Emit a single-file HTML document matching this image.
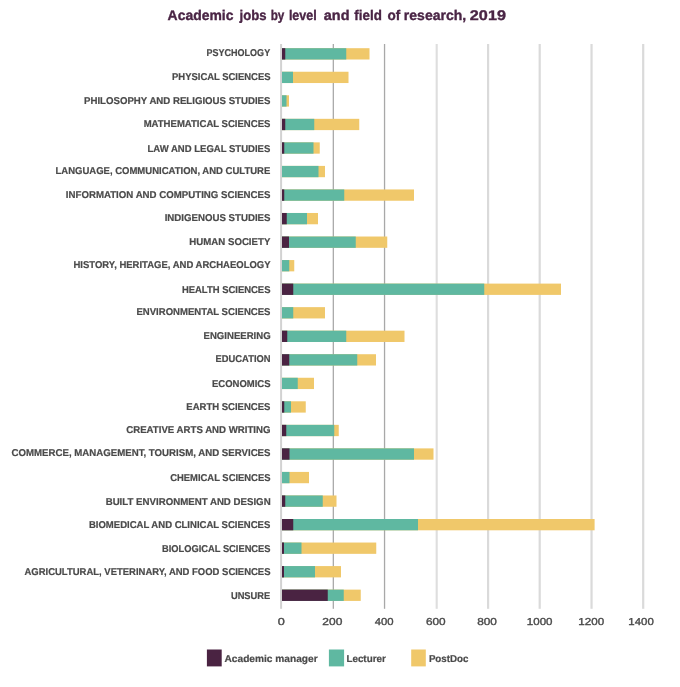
<!DOCTYPE html>
<html lang="en"><head><meta charset="utf-8"><title>Academic jobs by level and field of research, 2019</title>
<style>html,body{margin:0;padding:0;background:#fff}svg{display:block;will-change:transform}text{font-family:"Liberation Sans",sans-serif}</style></head><body>
<svg width="680" height="687" viewBox="0 0 680 687">
<rect width="680" height="687" fill="#fff"/>
<rect x="280.10" y="44.0" width="2.0" height="564.8" fill="#d2d2d2"/>
<rect x="332.70" y="44.0" width="1.2" height="564.8" fill="#a2a2a2"/>
<rect x="383.90" y="44.0" width="1.3" height="564.8" fill="#a8a8a8"/>
<rect x="435.65" y="44.0" width="2.1" height="564.8" fill="#dedede"/>
<rect x="487.00" y="44.0" width="2.2" height="564.8" fill="#dadada"/>
<rect x="538.60" y="44.0" width="2.2" height="564.8" fill="#dadada"/>
<rect x="590.45" y="44.0" width="2.2" height="564.8" fill="#dadada"/>
<rect x="642.10" y="44.0" width="2.2" height="564.8" fill="#dadada"/>
<rect x="282.00" y="48.20" width="87.50" height="11.3" fill="#f0c86a"/>
<rect x="282.00" y="48.20" width="64.25" height="11.3" fill="#5fb8a1"/>
<rect x="282.00" y="48.20" width="3.25" height="11.3" fill="#4a2342"/>
<rect x="282.00" y="71.74" width="66.50" height="11.3" fill="#f0c86a"/>
<rect x="282.00" y="71.74" width="11.00" height="11.3" fill="#5fb8a1"/>
<rect x="282.00" y="95.28" width="7.00" height="11.3" fill="#f0c86a"/>
<rect x="282.00" y="95.28" width="4.50" height="11.3" fill="#5fb8a1"/>
<rect x="282.00" y="118.82" width="77.25" height="11.3" fill="#f0c86a"/>
<rect x="282.00" y="118.82" width="32.25" height="11.3" fill="#5fb8a1"/>
<rect x="282.00" y="118.82" width="3.25" height="11.3" fill="#4a2342"/>
<rect x="282.00" y="142.36" width="37.75" height="11.3" fill="#f0c86a"/>
<rect x="282.00" y="142.36" width="31.50" height="11.3" fill="#5fb8a1"/>
<rect x="282.00" y="142.36" width="2.25" height="11.3" fill="#4a2342"/>
<rect x="282.00" y="165.90" width="43.00" height="11.3" fill="#f0c86a"/>
<rect x="282.00" y="165.90" width="36.50" height="11.3" fill="#5fb8a1"/>
<rect x="282.00" y="189.44" width="132.00" height="11.3" fill="#f0c86a"/>
<rect x="282.00" y="189.44" width="62.25" height="11.3" fill="#5fb8a1"/>
<rect x="282.00" y="189.44" width="2.25" height="11.3" fill="#4a2342"/>
<rect x="282.00" y="212.98" width="36.00" height="11.3" fill="#f0c86a"/>
<rect x="282.00" y="212.98" width="25.00" height="11.3" fill="#5fb8a1"/>
<rect x="282.00" y="212.98" width="4.75" height="11.3" fill="#4a2342"/>
<rect x="282.00" y="236.52" width="105.25" height="11.3" fill="#f0c86a"/>
<rect x="282.00" y="236.52" width="73.75" height="11.3" fill="#5fb8a1"/>
<rect x="282.00" y="236.52" width="7.00" height="11.3" fill="#4a2342"/>
<rect x="282.00" y="260.06" width="12.25" height="11.3" fill="#f0c86a"/>
<rect x="282.00" y="260.06" width="7.25" height="11.3" fill="#5fb8a1"/>
<rect x="282.00" y="283.60" width="279.00" height="11.3" fill="#f0c86a"/>
<rect x="282.00" y="283.60" width="202.25" height="11.3" fill="#5fb8a1"/>
<rect x="282.00" y="283.60" width="11.25" height="11.3" fill="#4a2342"/>
<rect x="282.00" y="307.14" width="43.00" height="11.3" fill="#f0c86a"/>
<rect x="282.00" y="307.14" width="11.25" height="11.3" fill="#5fb8a1"/>
<rect x="282.00" y="330.68" width="122.50" height="11.3" fill="#f0c86a"/>
<rect x="282.00" y="330.68" width="64.25" height="11.3" fill="#5fb8a1"/>
<rect x="282.00" y="330.68" width="5.25" height="11.3" fill="#4a2342"/>
<rect x="282.00" y="354.22" width="94.00" height="11.3" fill="#f0c86a"/>
<rect x="282.00" y="354.22" width="75.25" height="11.3" fill="#5fb8a1"/>
<rect x="282.00" y="354.22" width="7.25" height="11.3" fill="#4a2342"/>
<rect x="282.00" y="377.76" width="32.00" height="11.3" fill="#f0c86a"/>
<rect x="282.00" y="377.76" width="15.75" height="11.3" fill="#5fb8a1"/>
<rect x="282.00" y="401.30" width="23.75" height="11.3" fill="#f0c86a"/>
<rect x="282.00" y="401.30" width="9.00" height="11.3" fill="#5fb8a1"/>
<rect x="282.00" y="401.30" width="2.25" height="11.3" fill="#4a2342"/>
<rect x="282.00" y="424.84" width="56.75" height="11.3" fill="#f0c86a"/>
<rect x="282.00" y="424.84" width="52.25" height="11.3" fill="#5fb8a1"/>
<rect x="282.00" y="424.84" width="4.25" height="11.3" fill="#4a2342"/>
<rect x="282.00" y="448.38" width="151.50" height="11.3" fill="#f0c86a"/>
<rect x="282.00" y="448.38" width="132.00" height="11.3" fill="#5fb8a1"/>
<rect x="282.00" y="448.38" width="7.50" height="11.3" fill="#4a2342"/>
<rect x="282.00" y="471.92" width="27.00" height="11.3" fill="#f0c86a"/>
<rect x="282.00" y="471.92" width="7.50" height="11.3" fill="#5fb8a1"/>
<rect x="282.00" y="495.46" width="54.50" height="11.3" fill="#f0c86a"/>
<rect x="282.00" y="495.46" width="40.75" height="11.3" fill="#5fb8a1"/>
<rect x="282.00" y="495.46" width="3.25" height="11.3" fill="#4a2342"/>
<rect x="282.00" y="519.00" width="312.60" height="11.3" fill="#f0c86a"/>
<rect x="282.00" y="519.00" width="136.00" height="11.3" fill="#5fb8a1"/>
<rect x="282.00" y="519.00" width="11.25" height="11.3" fill="#4a2342"/>
<rect x="282.00" y="542.54" width="94.25" height="11.3" fill="#f0c86a"/>
<rect x="282.00" y="542.54" width="19.50" height="11.3" fill="#5fb8a1"/>
<rect x="282.00" y="542.54" width="2.00" height="11.3" fill="#4a2342"/>
<rect x="282.00" y="566.08" width="59.00" height="11.3" fill="#f0c86a"/>
<rect x="282.00" y="566.08" width="33.00" height="11.3" fill="#5fb8a1"/>
<rect x="282.00" y="566.08" width="2.00" height="11.3" fill="#4a2342"/>
<rect x="282.00" y="589.62" width="78.75" height="11.3" fill="#f0c86a"/>
<rect x="282.00" y="589.62" width="61.75" height="11.3" fill="#5fb8a1"/>
<rect x="282.00" y="589.62" width="45.75" height="11.3" fill="#4a2342"/>
<rect x="206.9" y="649.5" width="14.8" height="16.9" fill="#4a2342"/>
<rect x="328.9" y="649.5" width="15.2" height="16.9" fill="#5fb8a1"/>
<rect x="411.2" y="649.5" width="14.6" height="16.9" fill="#f0c86a"/>
<text x="167.61" y="20.10" font-size="14.0" font-weight="bold" text-rendering="geometricPrecision" fill="#4a2545" stroke="#4a2545" stroke-width="0.35" textLength="65.83" lengthAdjust="spacingAndGlyphs">Academic</text>
<text x="239.52" y="20.10" font-size="14.0" font-weight="bold" text-rendering="geometricPrecision" fill="#4a2545" stroke="#4a2545" stroke-width="0.35" textLength="26.98" lengthAdjust="spacingAndGlyphs">jobs</text>
<text x="270.69" y="20.10" font-size="14.0" font-weight="bold" text-rendering="geometricPrecision" fill="#4a2545" stroke="#4a2545" stroke-width="0.35" textLength="13.68" lengthAdjust="spacingAndGlyphs">by</text>
<text x="288.88" y="20.10" font-size="14.0" font-weight="bold" text-rendering="geometricPrecision" fill="#4a2545" stroke="#4a2545" stroke-width="0.35" textLength="27.82" lengthAdjust="spacingAndGlyphs">level</text>
<text x="323.81" y="20.10" font-size="14.0" font-weight="bold" text-rendering="geometricPrecision" fill="#4a2545" stroke="#4a2545" stroke-width="0.35" textLength="25.68" lengthAdjust="spacingAndGlyphs">and</text>
<text x="354.37" y="20.10" font-size="14.0" font-weight="bold" text-rendering="geometricPrecision" fill="#4a2545" stroke="#4a2545" stroke-width="0.35" textLength="27.46" lengthAdjust="spacingAndGlyphs">field</text>
<text x="387.52" y="20.10" font-size="14.0" font-weight="bold" text-rendering="geometricPrecision" fill="#4a2545" stroke="#4a2545" stroke-width="0.35" textLength="12.77" lengthAdjust="spacingAndGlyphs">of</text>
<text x="403.87" y="20.10" font-size="14.0" font-weight="bold" text-rendering="geometricPrecision" fill="#4a2545" stroke="#4a2545" stroke-width="0.35" textLength="62.35" lengthAdjust="spacingAndGlyphs">research,</text>
<text x="469.85" y="20.10" font-size="14.0" font-weight="bold" text-rendering="geometricPrecision" fill="#4a2545" stroke="#4a2545" stroke-width="0.35" textLength="36.10" lengthAdjust="spacingAndGlyphs">2019</text>
<text x="206.50" y="55.60" font-size="9.9" font-weight="bold" text-rendering="geometricPrecision" fill="#4a4a4a" stroke="#4a4a4a" stroke-width="0.2" textLength="63.65" lengthAdjust="spacingAndGlyphs">PSYCHOLOGY</text>
<text x="172.08" y="79.90" font-size="9.9" font-weight="bold" text-rendering="geometricPrecision" fill="#4a4a4a" stroke="#4a4a4a" stroke-width="0.2" textLength="98.42" lengthAdjust="spacingAndGlyphs">PHYSICAL SCIENCES</text>
<text x="84.04" y="104.45" font-size="9.9" font-weight="bold" text-rendering="geometricPrecision" fill="#4a4a4a" stroke="#4a4a4a" stroke-width="0.2" textLength="186.46" lengthAdjust="spacingAndGlyphs">PHILOSOPHY AND RELIGIOUS STUDIES</text>
<text x="143.67" y="127.40" font-size="9.9" font-weight="bold" text-rendering="geometricPrecision" fill="#4a4a4a" stroke="#4a4a4a" stroke-width="0.2" textLength="126.72" lengthAdjust="spacingAndGlyphs">MATHEMATICAL SCIENCES</text>
<text x="147.48" y="151.50" font-size="9.9" font-weight="bold" text-rendering="geometricPrecision" fill="#4a4a4a" stroke="#4a4a4a" stroke-width="0.2" textLength="122.85" lengthAdjust="spacingAndGlyphs">LAW AND LEGAL STUDIES</text>
<text x="55.48" y="174.40" font-size="9.9" font-weight="bold" text-rendering="geometricPrecision" fill="#4a4a4a" stroke="#4a4a4a" stroke-width="0.2" textLength="214.86" lengthAdjust="spacingAndGlyphs">LANGUAGE, COMMUNICATION, AND CULTURE</text>
<text x="65.82" y="197.90" font-size="9.9" font-weight="bold" text-rendering="geometricPrecision" fill="#4a4a4a" stroke="#4a4a4a" stroke-width="0.2" textLength="204.68" lengthAdjust="spacingAndGlyphs">INFORMATION AND COMPUTING SCIENCES</text>
<text x="164.65" y="221.20" font-size="9.9" font-weight="bold" text-rendering="geometricPrecision" fill="#4a4a4a" stroke="#4a4a4a" stroke-width="0.2" textLength="105.85" lengthAdjust="spacingAndGlyphs">INDIGENOUS STUDIES</text>
<text x="189.33" y="245.30" font-size="9.9" font-weight="bold" text-rendering="geometricPrecision" fill="#4a4a4a" stroke="#4a4a4a" stroke-width="0.2" textLength="81.00" lengthAdjust="spacingAndGlyphs">HUMAN SOCIETY</text>
<text x="73.48" y="268.00" font-size="9.9" font-weight="bold" text-rendering="geometricPrecision" fill="#4a4a4a" stroke="#4a4a4a" stroke-width="0.2" textLength="197.10" lengthAdjust="spacingAndGlyphs">HISTORY, HERITAGE, AND ARCHAEOLOGY</text>
<text x="181.92" y="292.60" font-size="9.9" font-weight="bold" text-rendering="geometricPrecision" fill="#4a4a4a" stroke="#4a4a4a" stroke-width="0.2" textLength="88.58" lengthAdjust="spacingAndGlyphs">HEALTH SCIENCES</text>
<text x="136.48" y="315.30" font-size="9.9" font-weight="bold" text-rendering="geometricPrecision" fill="#4a4a4a" stroke="#4a4a4a" stroke-width="0.2" textLength="134.02" lengthAdjust="spacingAndGlyphs">ENVIRONMENTAL SCIENCES</text>
<text x="203.55" y="339.30" font-size="9.9" font-weight="bold" text-rendering="geometricPrecision" fill="#4a4a4a" stroke="#4a4a4a" stroke-width="0.2" textLength="67.06" lengthAdjust="spacingAndGlyphs">ENGINEERING</text>
<text x="215.59" y="362.40" font-size="9.9" font-weight="bold" text-rendering="geometricPrecision" fill="#4a4a4a" stroke="#4a4a4a" stroke-width="0.2" textLength="54.94" lengthAdjust="spacingAndGlyphs">EDUCATION</text>
<text x="211.97" y="386.60" font-size="9.9" font-weight="bold" text-rendering="geometricPrecision" fill="#4a4a4a" stroke="#4a4a4a" stroke-width="0.2" textLength="58.53" lengthAdjust="spacingAndGlyphs">ECONOMICS</text>
<text x="186.32" y="409.60" font-size="9.9" font-weight="bold" text-rendering="geometricPrecision" fill="#4a4a4a" stroke="#4a4a4a" stroke-width="0.2" textLength="84.08" lengthAdjust="spacingAndGlyphs">EARTH SCIENCES</text>
<text x="126.25" y="433.30" font-size="9.9" font-weight="bold" text-rendering="geometricPrecision" fill="#4a4a4a" stroke="#4a4a4a" stroke-width="0.2" textLength="144.25" lengthAdjust="spacingAndGlyphs">CREATIVE ARTS AND WRITING</text>
<text x="11.50" y="456.40" font-size="9.9" font-weight="bold" text-rendering="geometricPrecision" fill="#4a4a4a" stroke="#4a4a4a" stroke-width="0.2" textLength="259.00" lengthAdjust="spacingAndGlyphs">COMMERCE, MANAGEMENT, TOURISM, AND SERVICES</text>
<text x="170.26" y="480.60" font-size="9.9" font-weight="bold" text-rendering="geometricPrecision" fill="#4a4a4a" stroke="#4a4a4a" stroke-width="0.2" textLength="100.23" lengthAdjust="spacingAndGlyphs">CHEMICAL SCIENCES</text>
<text x="105.65" y="504.60" font-size="9.9" font-weight="bold" text-rendering="geometricPrecision" fill="#4a4a4a" stroke="#4a4a4a" stroke-width="0.2" textLength="165.00" lengthAdjust="spacingAndGlyphs">BUILT ENVIRONMENT AND DESIGN</text>
<text x="88.90" y="527.60" font-size="9.9" font-weight="bold" text-rendering="geometricPrecision" fill="#4a4a4a" stroke="#4a4a4a" stroke-width="0.2" textLength="181.43" lengthAdjust="spacingAndGlyphs">BIOMEDICAL AND CLINICAL SCIENCES</text>
<text x="162.05" y="551.80" font-size="9.9" font-weight="bold" text-rendering="geometricPrecision" fill="#4a4a4a" stroke="#4a4a4a" stroke-width="0.2" textLength="108.45" lengthAdjust="spacingAndGlyphs">BIOLOGICAL SCIENCES</text>
<text x="24.50" y="574.50" font-size="9.9" font-weight="bold" text-rendering="geometricPrecision" fill="#4a4a4a" stroke="#4a4a4a" stroke-width="0.2" textLength="246.00" lengthAdjust="spacingAndGlyphs">AGRICULTURAL, VETERINARY, AND FOOD SCIENCES</text>
<text x="230.93" y="598.90" font-size="9.9" font-weight="bold" text-rendering="geometricPrecision" fill="#4a4a4a" stroke="#4a4a4a" stroke-width="0.2" textLength="39.30" lengthAdjust="spacingAndGlyphs">UNSURE</text>
<text x="277.86" y="624.90" font-size="10.1" text-rendering="geometricPrecision" fill="#4a4a4a" stroke="#4a4a4a" stroke-width="0.35" textLength="7.07" lengthAdjust="spacingAndGlyphs">0</text>
<text x="322.39" y="624.90" font-size="10.1" text-rendering="geometricPrecision" fill="#4a4a4a" stroke="#4a4a4a" stroke-width="0.35" textLength="20.02" lengthAdjust="spacingAndGlyphs">200</text>
<text x="374.65" y="624.90" font-size="10.1" text-rendering="geometricPrecision" fill="#4a4a4a" stroke="#4a4a4a" stroke-width="0.35" textLength="18.88" lengthAdjust="spacingAndGlyphs">400</text>
<text x="425.93" y="624.90" font-size="10.1" text-rendering="geometricPrecision" fill="#4a4a4a" stroke="#4a4a4a" stroke-width="0.35" textLength="19.73" lengthAdjust="spacingAndGlyphs">600</text>
<text x="477.20" y="624.90" font-size="10.1" text-rendering="geometricPrecision" fill="#4a4a4a" stroke="#4a4a4a" stroke-width="0.35" textLength="19.76" lengthAdjust="spacingAndGlyphs">800</text>
<text x="526.88" y="624.90" font-size="10.1" text-rendering="geometricPrecision" fill="#4a4a4a" stroke="#4a4a4a" stroke-width="0.35" textLength="25.68" lengthAdjust="spacingAndGlyphs">1000</text>
<text x="578.32" y="624.90" font-size="10.1" text-rendering="geometricPrecision" fill="#4a4a4a" stroke="#4a4a4a" stroke-width="0.35" textLength="25.85" lengthAdjust="spacingAndGlyphs">1200</text>
<text x="628.38" y="624.90" font-size="10.1" text-rendering="geometricPrecision" fill="#4a4a4a" stroke="#4a4a4a" stroke-width="0.35" textLength="25.42" lengthAdjust="spacingAndGlyphs">1400</text>
<text x="224.51" y="662.10" font-size="10.0" font-weight="bold" text-rendering="geometricPrecision" fill="#4a4a4a" stroke="#4a4a4a" stroke-width="0.2" textLength="93.13" lengthAdjust="spacingAndGlyphs">Academic manager</text>
<text x="346.40" y="662.10" font-size="10.0" font-weight="bold" text-rendering="geometricPrecision" fill="#4a4a4a" stroke="#4a4a4a" stroke-width="0.2" textLength="39.40" lengthAdjust="spacingAndGlyphs">Lecturer</text>
<text x="428.88" y="662.10" font-size="10.0" font-weight="bold" text-rendering="geometricPrecision" fill="#4a4a4a" stroke="#4a4a4a" stroke-width="0.2" textLength="39.52" lengthAdjust="spacingAndGlyphs">PostDoc</text>
</svg></body></html>
